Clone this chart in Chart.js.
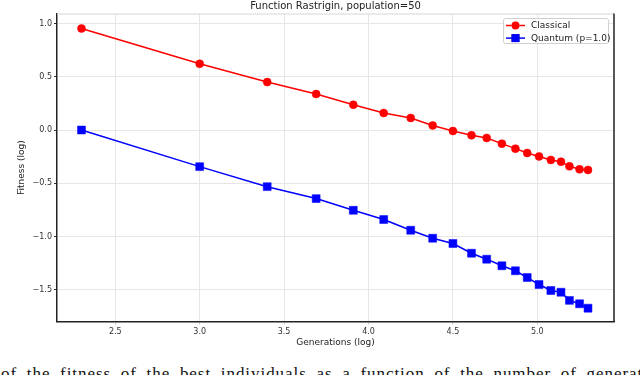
<!DOCTYPE html>
<html>
<head>
<meta charset="utf-8">
<script src="https://cdn.jsdelivr.net/npm/chart.js@4"></script>
<style>
  html, body { margin: 0; padding: 0; background: #fff; }
  #wrap { position: relative; width: 640px; height: 375px; overflow: hidden; }
  #box { position: absolute; left: 0; top: 0; width: 640px; height: 350px; }
  .caption {
    position: absolute; left: 1px; top: 364.5px; white-space: nowrap;
    font-family: "Liberation Serif", "DejaVu Serif", serif; font-size: 17px; line-height: 17px;
    letter-spacing: 0.95px; word-spacing: 4.5px; color: #111;
  }
</style>
</head>
<body>
<div id="wrap">
  <div id="box"><canvas id="chart"></canvas></div>
  <div class="caption">of the fitness of the best individuals as a function of the number of generations</div>
</div>
<script>
// log(generations)
const generations = [2.30, 3.00, 3.40, 3.69, 3.91, 4.09, 4.25, 4.38, 4.50, 4.61, 4.70, 4.79, 4.87, 4.94, 5.01, 5.08, 5.14, 5.19, 5.25, 5.30]
const classical = [0.953, 0.622, 0.45, 0.338, 0.237, 0.159, 0.113, 0.043, -0.009, -0.05, -0.075, -0.128, -0.175, -0.216, -0.248, -0.281, -0.297, -0.341, -0.369, -0.375]
const quantum = [0.0, -0.344, -0.532, -0.644, -0.754, -0.841, -0.941, -1.016, -1.066, -1.157, -1.213, -1.275, -1.322, -1.385, -1.451, -1.507, -1.523, -1.60, -1.632, -1.673]
const xTicks = [2.5, 3.0, 3.5, 4.0, 4.5, 5.0]
const yTicks = [-1.5, -1.0, -0.5, 0.0, 0.5, 1.0]

const font = "DejaVu Sans"
const fmt = v => v.toFixed(1).replace("-", "\u2212")

const frame = {
  id: "frame",
  afterDatasetsDraw: (chart) => {
    const ctx = chart.ctx
    const a = chart.chartArea
    ctx.save()
    ctx.strokeStyle = "#d6d6d6"
    ctx.lineWidth = 1
    ctx.beginPath()
    ctx.moveTo(a.left, a.top + 0.5)
    ctx.lineTo(a.right, a.top + 0.5)
    ctx.stroke()
    ctx.strokeStyle = "#222"
    ctx.lineWidth = 1.5
    ctx.beginPath()
    ctx.moveTo(a.right, a.top)
    ctx.lineTo(a.right, a.bottom)
    ctx.stroke()
    ctx.restore()
  },
  afterDraw: (chart) => {
    // legend inside the plot, top right
    const ctx = chart.ctx
    const a = chart.chartArea
    const w = 105, h = 25
    const x0 = a.right - 6 - w, y0 = a.top + 4.5
    ctx.save()
    ctx.fillStyle = "rgba(255,255,255,0.9)"
    ctx.strokeStyle = "#d0d0d0"
    ctx.lineWidth = 1
    ctx.beginPath()
    ctx.roundRect(x0 + 0.5, y0 + 0.5, w, h, 2)
    ctx.fill()
    ctx.stroke()
    ctx.font = "9px '" + font + "'"
    ctx.textBaseline = "middle"
    chart.data.datasets.forEach((ds, i) => {
      const y = y0 + 7.5 + i * 12.6
      ctx.strokeStyle = ds.borderColor
      ctx.lineWidth = 1.5
      ctx.beginPath()
      ctx.moveTo(x0 + 3, y)
      ctx.lineTo(x0 + 22, y)
      ctx.stroke()
      Chart.helpers.drawPoint(ctx, {pointStyle: ds.pointStyle, radius: ds.pointRadius, borderWidth: 0}, x0 + 12.5, y)
      ctx.fillStyle = ds.borderColor
      ctx.fill()
      ctx.fillStyle = "#222"
      ctx.fillText(ds.label, x0 + 28, y + 0.5)
    })
    ctx.restore()
  }
}

new Chart(document.getElementById("chart"), {
  type: "scatter",
  data: {
    datasets: [
      {
        label: "Classical",
        data: generations.map((g, i) => ({x: g, y: classical[i]})),
        showLine: true,
        borderColor: "#ff0000",
        backgroundColor: "#ff0000",
        borderWidth: 1.5,
        pointStyle: "circle",
        pointRadius: 4,
        pointBorderWidth: 0.5
      },
      {
        label: "Quantum (p=1.0)",
        data: generations.map((g, i) => ({x: g, y: quantum[i]})),
        showLine: true,
        borderColor: "#0000ff",
        backgroundColor: "#0000ff",
        borderWidth: 1.5,
        pointStyle: "rect",
        pointRadius: 5.6,
        pointBorderWidth: 0.5
      }
    ]
  },
  options: {
    responsive: true,
    maintainAspectRatio: false,
    animation: false,
    layout: { padding: { left: 0, right: 26, top: 0, bottom: 0 } },
    plugins: {
      legend: { display: false },
      tooltip: { enabled: false },
      title: {
        display: true,
        fullSize: false,
        text: "Function Rastrigin, population=50",
        color: "#222",
        font: { family: font, size: 10, weight: "normal" },
        padding: { top: 0, bottom: 1.5 }
      }
    },
    scales: {
      x: {
        type: "linear",
        min: 2.155,
        max: 5.454,
        afterFit: s => { s.height = 28.3 },
        afterBuildTicks: s => { s.ticks = xTicks.map(v => ({value: v})) },
        grid: { color: "#e6e6e6", tickColor: "#cfcfcf", tickLength: 3 },
        border: { color: "#222", width: 1.5 },
        ticks: { callback: v => fmt(v), color: "#333", padding: 2, maxRotation: 0, font: { family: font, size: 8 } },
        title: { display: true, text: "Generations (log)", color: "#222", font: { family: font, size: 9 }, padding: { top: 0, bottom: 1.6 } }
      },
      y: {
        type: "linear",
        min: -1.80,
        max: 1.094,
        afterFit: s => { s.width = 57 },
        afterBuildTicks: s => { s.ticks = yTicks.map(v => ({value: v})) },
        grid: { color: "#e6e6e6", tickColor: "#333", tickLength: 3 },
        border: { color: "#222", width: 1.5 },
        ticks: { callback: v => fmt(v), color: "#333", padding: 2, font: { family: font, size: 8 } },
        title: { display: true, text: "Fitness (log)", color: "#222", font: { family: font, size: 9 }, padding: { top: 16.6 } }
      }
    }
  },
  plugins: [frame]
})
</script>
</body>
</html>
